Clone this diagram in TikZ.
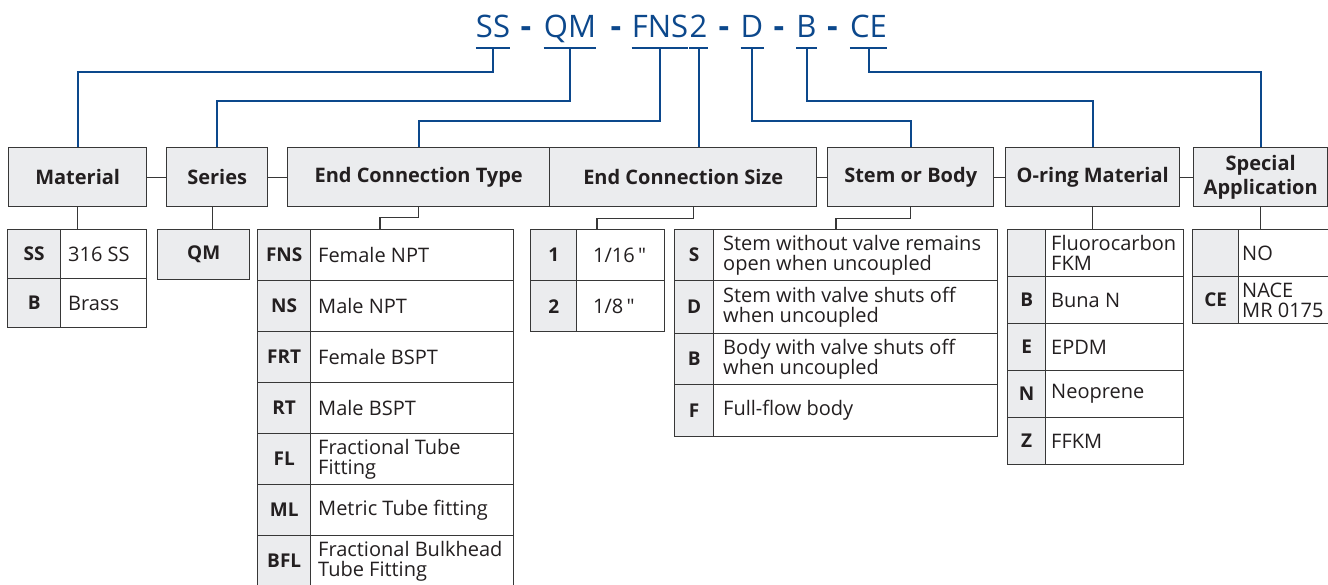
\documentclass[tikz,border=0pt]{standalone}
\usepackage{fontspec}
\setmainfont{Open Sans}
\definecolor{codeblue}{RGB}{12,72,140}
\definecolor{hdrfill}{RGB}{235,236,238}
\definecolor{linegray}{RGB}{55,55,55}
\definecolor{txt}{RGB}{35,31,32}
\newcommand\specrow[9]{%
  \pgfmathsetmacro\cw{#3-#2}%
  \pgfmathsetmacro\vw{#4-#3}%
  \pgfmathsetmacro\rh{#6-#5}%
  \node[codecell, minimum width=\cw pt, minimum height=\rh pt] (#1c) at (#2,#5) {#8};
  \node[valcell, minimum width=\vw pt, minimum height=\rh pt] (#1v) at (#3,#5) {};
  \node[valtxt] (#1t) at ([xshift=#7pt]#1v.west) {#9};
}
\begin{document}
\begin{tikzpicture}[x=1pt,y=-1pt,
  hdr/.style={draw=linegray, line width=1.4pt, fill=hdrfill, text=txt,
    font=\bfseries\fontsize{20}{23.5}\selectfont, align=center, inner sep=0pt, anchor=north west},
  codecell/.style={draw=linegray, line width=1.4pt, fill=hdrfill, text=txt,
    font=\bfseries\fontsize{19}{20}\selectfont, inner sep=0pt, anchor=north west},
  valcell/.style={draw=linegray, line width=1.4pt, fill=white, inner sep=0pt, anchor=north west},
  valtxt/.style={text=txt, font=\fontsize{20}{20}\selectfont, align=left, inner sep=0pt, anchor=west},
  ttl/.style={text=codeblue, font=\fontsize{31}{31}\selectfont, anchor=base, inner sep=0pt},
  tdash/.style={text=codeblue, font=\bfseries\fontsize{33}{33}\selectfont, anchor=base, inner sep=0pt},
  bluel/.style={draw=codeblue, line width=2pt},
  gline/.style={draw=linegray, line width=1.4pt}
]
\useasboundingbox (0,0) rectangle (1328,584);
\clip (0,0) rectangle (1328,584);
\fill[white] (0,0) rectangle (1328,584);

% title
\node[ttl] (tSS) at (493,37) {SS};
\node[tdash] (d1) at (526,37) {-};
\node[ttl] (tQM) at (570,37) {QM};
\node[tdash] (d2) at (616,37) {-};
\node[ttl] (tFNS) at (660,37) {FNS};
\node[ttl] (t2) at (698.5,37) {2};
\node[tdash] (d3) at (724,37) {-};
\node[ttl] (tD) at (752,37) {D};
\node[tdash] (d4) at (779,37) {-};
\node[ttl] (tB) at (806.5,37) {B};
\node[tdash] (d5) at (832.5,37) {-};
\node[ttl] (tCE) at (868.5,37) {CE};

% headers
\node[hdr, minimum width=138pt, minimum height=59pt] (hMat) at (8,147) {Material};
\node[hdr, minimum width=101pt, minimum height=59pt] (hSer) at (166,147) {Series};
\node[hdr, minimum width=262pt, minimum height=59pt] (hECT) at (287,147) {End Connection Type};
\node[hdr, minimum width=267pt, minimum height=59pt] (hECS) at (549,147) {End Connection Size};
\node[hdr, minimum width=166pt, minimum height=59pt] (hStem) at (827,147) {Stem or Body};
\node[hdr, minimum width=174pt, minimum height=59pt] (hOr) at (1005,147) {O-ring Material};
\node[hdr, minimum width=134pt, minimum height=59pt] (hSp) at (1193,147) {Special\\Application};

\draw[gline] (hMat.east) -- (hSer.west);
\draw[gline] (hSer.east) -- (hECT.west);
\draw[gline] (hECS.east) -- (hStem.west);
\draw[gline] (hStem.east) -- (hOr.west);
\draw[gline] (hOr.east) -- (hSp.west);

% underline bars
\foreach \n in {tSS,tQM,tFNS,t2,tD,tB,tCE}{
  \draw[bluel] ([yshift=-11pt]\n.base west) -- ([yshift=-11pt]\n.base east);
}
% blue connectors
\draw[bluel] ([yshift=-11pt]tSS.base) -- ([yshift=-35pt]tSS.base) -| (hMat.north);
\draw[bluel] ([yshift=-11pt]tQM.base) -- ([yshift=-64pt]tQM.base) -| (hSer.north);
\draw[bluel] ([yshift=-11pt]tFNS.base) -- ([yshift=-84pt]tFNS.base) -| (hECT.north);
\draw[bluel] ([yshift=-11pt]t2.base) -- (t2.base |- hECS.north);
\draw[bluel] ([yshift=-11pt]tD.base) -- ([yshift=-84pt]tD.base) -| (hStem.north);
\draw[bluel] ([yshift=-11pt]tB.base) -- ([yshift=-64pt]tB.base) -| (hOr.north);
\draw[bluel] ([yshift=-11pt]tCE.base) -- ([yshift=-35pt]tCE.base) -| (hSp.north);

% Material table
\specrow{mat1}{7}{60}{146}{229}{278}{8}{SS}{316 SS}
\specrow{mat2}{7}{60}{146}{278}{327}{8}{B}{Brass}
% Series
\node[codecell, minimum width=92pt, minimum height=50pt] (qm) at (157,229) {QM};
% End connection type
\specrow{ect1}{257}{310}{513}{229}{280}{8}{FNS}{Female NPT}
\specrow{ect2}{257}{310}{513}{280}{331}{8}{NS}{Male NPT}
\specrow{ect3}{257}{310}{513}{331}{382}{8}{FRT}{Female BSPT}
\specrow{ect4}{257}{310}{513}{382}{433}{8}{RT}{Male BSPT}
\specrow{ect5}{257}{310}{513}{433}{484}{8}{FL}{Fractional Tube\\Fitting}
\specrow{ect6}{257}{310}{513}{484}{535}{8}{ML}{Metric Tube fitting}
\specrow{ect7}{257}{310}{513}{535}{586}{8}{BFL}{Fractional Bulkhead\\Tube Fitting}
% End connection size
\specrow{sz1}{530}{576}{664}{229}{280}{17}{1}{1/16\,\textquotedbl}
\specrow{sz2}{530}{576}{664}{280}{331}{17}{2}{1/8\,\textquotedbl}
% Stem or body
\specrow{st1}{674}{713}{997}{229}{280}{10}{S}{Stem without valve remains\\open when uncoupled}
\specrow{st2}{674}{713}{997}{280}{333}{10}{D}{Stem with valve shuts off\\when uncoupled}
\specrow{st3}{674}{713}{997}{333}{384}{10}{B}{Body with valve shuts off\\when uncoupled}
\specrow{st4}{674}{713}{997}{384}{436}{10}{F}{Full-flow body}
% O-ring
\specrow{or1}{1007}{1045}{1183}{229}{276}{6}{}{Fluorocarbon\\FKM}
\specrow{or2}{1007}{1045}{1183}{276}{323}{6}{B}{Buna N}
\specrow{or3}{1007}{1045}{1183}{323}{370}{6}{E}{EPDM}
\specrow{or4}{1007}{1045}{1183}{370}{417}{6}{N}{Neoprene}
\specrow{or5}{1007}{1045}{1183}{417}{464}{6}{Z}{FFKM}
% Special
\specrow{sp1}{1192}{1238}{1345}{229}{276}{4}{}{NO}
\specrow{sp2}{1192}{1238}{1345}{276}{323}{4}{CE}{NACE\\MR 0175}

% gray connectors to tables
\draw[gline] (hMat.south) -- (hMat.south |- mat1c.north);
\coordinate (serB) at ([xshift=-5pt]hSer.south);
\draw[gline] (serB) -- (serB |- qm.north);
\coordinate (ectT) at (380,229);
\draw[gline] (hECT.south) -- ([yshift=-10pt]hECT.south) -| (ectT);
\coordinate (ecsB) at ([xshift=10pt]hECS.south);
\coordinate (szT) at (597,229);
\draw[gline] (ecsB) -- ([yshift=-11pt]ecsB) -| (szT);
\coordinate (stT) at (836,229);
\draw[gline] (hStem.south) -- ([yshift=-11pt]hStem.south) -| (stT);
\draw[gline] (hOr.south) -- (hOr.south |- or1c.north);
\draw[gline] (hSp.south) -- (hSp.south |- sp1c.north);
\end{tikzpicture}
\end{document}
